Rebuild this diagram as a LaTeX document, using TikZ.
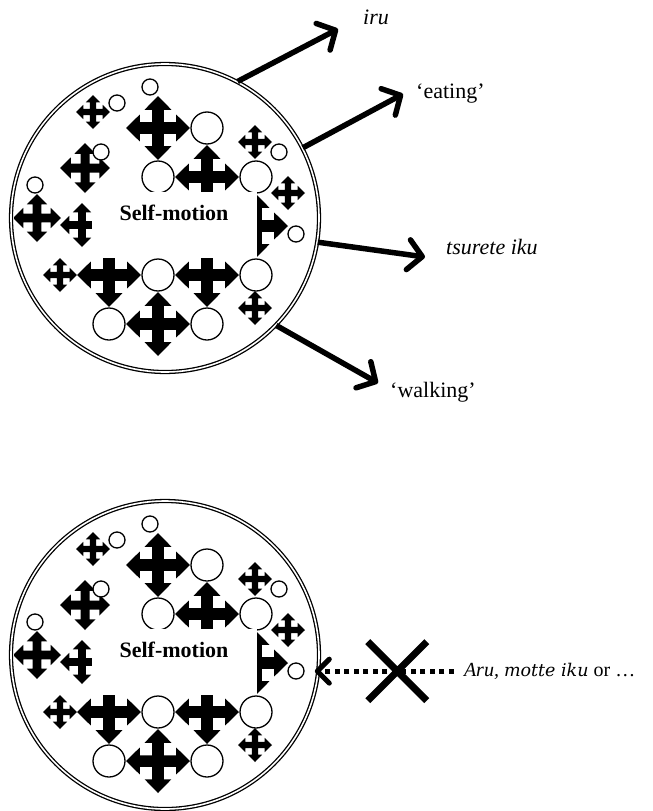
\documentclass[tikz,border=0pt]{standalone}
\usepackage{fontspec}
\setmainfont{Liberation Serif}
\newfontfamily\wideserif{DejaVu Serif}
\usetikzlibrary{positioning,arrows.meta,shapes.misc}

\tikzset{
  plus4/.pic={\fill (1,0) -- (0.57,0.42) -- (0.57,0.18) -- (0.18,0.18) -- (0.18,0.57) -- (0.42,0.57) -- (0,1) -- (-0.42,0.57) -- (-0.18,0.57) -- (-0.18,0.18) -- (-0.57,0.18) -- (-0.57,0.42) -- (-1,0) -- (-0.57,-0.42) -- (-0.57,-0.18) -- (-0.18,-0.18) -- (-0.18,-0.57) -- (-0.42,-0.57) -- (0,-1) -- (0.42,-0.57) -- (0.18,-0.57) -- (0.18,-0.18) -- (0.57,-0.18) -- (0.57,-0.42) -- cycle;},
  hole/.style={draw, fill=white, line width=1.3pt},
  ring/.style={circle, draw, double, double distance=1.6pt, line width=1.3pt, minimum size=308pt, inner sep=0pt},
  cover/.style={rectangle, fill=white, minimum width=165pt, minimum height=66pt, inner sep=0pt},
  motion/.style={font=\fontsize{22}{26}\selectfont\bfseries, inner sep=0pt},
  tag/.style={font=\fontsize{22}{26}\selectfont, inner sep=0pt},
  push/.style={line width=5.5pt, -{Straight Barb[length=14pt,width=30pt,round]}},
  blocked/.style={line width=5pt, dash pattern=on 5pt off 4.5pt, -{Straight Barb[length=12pt,width=24pt,round]}},
  blob/.pic={
    \node[ring] (_ring) at (0,-2) {};
    \begin{scope}
      \clip (0,-2) circle (151);
      % big crosses
      \pic[scale=32] at (-7,-92) {plus4};
      \pic[scale=32] at (42,-43) {plus4};
      \pic[scale=32] at (91,6) {plus4};
      \pic[scale=32] at (-56,55) {plus4};
      \pic[scale=32] at (42,55) {plus4};
      \pic[scale=32] at (-7,104) {plus4};
      % medium and small crosses
      \pic[scale=25] at (-80,-52) {plus4};
      \pic[scale=24] at (-128,-2) {plus4};
      \pic[scale=22] at (-83,5) {plus4};
      \pic[scale=17] at (-72,-108) {plus4};
      \pic[scale=17] at (90,-78) {plus4};
      \pic[scale=17] at (123,-27) {plus4};
      \pic[scale=17] at (-105,55) {plus4};
      \pic[scale=17] at (90,88) {plus4};
      % big circles
      \draw[hole] (42,-92) circle (16);
      \draw[hole] (-7,-43) circle (16);
      \draw[hole] (91,-43) circle (16);
      \draw[hole] (-7,55) circle (16);
      \draw[hole] (91,55) circle (16);
      \draw[hole] (-56,104) circle (16);
      \draw[hole] (42,104) circle (16);
      % small circles
      \draw[hole] (-15,-133) circle (8);
      \draw[hole] (-48,-117) circle (8);
      \draw[hole] (-64,-68) circle (8);
      \draw[hole] (-130,-35) circle (8);
      \draw[hole] (114,-68) circle (8);
      \draw[hole] (131,14) circle (8);
      % label
      \node[cover] (_box) at (9.5,5) {};
      \node[motion] (_label) at (9,-7) {Self-motion};
    \end{scope}
  }
}

\begin{document}
\begin{tikzpicture}[x=1pt, y=-1pt]
  \useasboundingbox (0,0) rectangle (653,811);

  % BLOBS
  % -----------------
  \pic (top) at (165,220) {blob};
  \pic (bot) at (165,657) {blob};

  % LABELS
  % -----------------
  \coordinate (iru_tip) at (338,29);
  \coordinate (eat_tip) at (403,94);
  \coordinate (tsu_tip) at (425,257);
  \coordinate (walk_tip) at (378,383);
  \coordinate (hit) at (bot_ring.-6);

  \node[tag, right=25pt of iru_tip, yshift=12pt] (iru) {\itshape iru};
  \node[tag, right=13pt of eat_tip] (eating) {`eating'};
  \node[tag, right=21pt of tsu_tip, yshift=10pt] (tsurete) {\itshape tsurete iku};
  \node[tag, right=12pt of walk_tip, yshift=-9pt] (walking) {`walking'};
  \node[tag, font=\fontsize{20}{24}\selectfont, right=145pt of hit] (aru) {\itshape Aru, {\wideserif\fontsize{17.5}{21}\selectfont motte iku}\upshape{} or \dots};

  % EDGES
  % -----------------
  \draw[push] (top_ring.62) -- (iru_tip);
  \draw[push] (top_ring.27) -- (eat_tip);
  \draw[push] (top_ring.-9) -- (tsu_tip);
  \draw[push] (top_ring.-44) -- (walk_tip);

  \draw[blocked, shorten <=10pt, shorten >=-4pt] (aru.west) -- (hit);
  \node[cross out, draw, line width=7pt, minimum size=52pt, inner sep=0pt, right=49pt of hit] (nogo) {};
\end{tikzpicture}
\end{document}
